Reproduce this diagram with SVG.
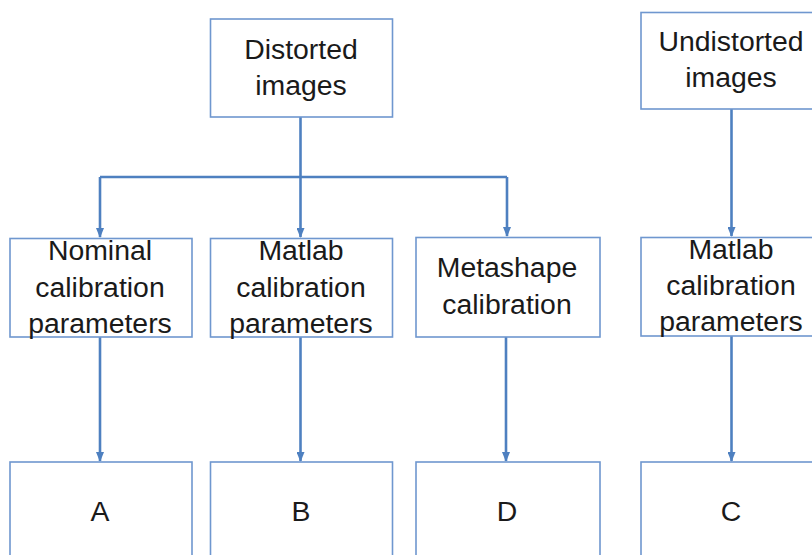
<svg xmlns="http://www.w3.org/2000/svg" width="812" height="555" viewBox="0 0 812 555">
<style>
.box{fill:#fff;stroke:#6f97cf;stroke-width:1.6}
.t{font-family:"Liberation Sans",Arial,sans-serif;font-size:28.4px;fill:#1a1a1a;text-anchor:middle}
.c{fill:none;stroke:#4e80c0;stroke-width:2.6}
</style>
<defs>
<marker id="ah" markerWidth="10" markerHeight="8" refX="9" refY="4" orient="auto" markerUnits="userSpaceOnUse">
<path d="M0,0 L10,4 L0,8 Z" fill="#4e80c0"/>
</marker>
</defs>
<rect width="812" height="555" fill="#fff"/>
<g id="connectors">
<path class="c" d="M300.5,117 V177"/>
<path class="c" d="M100,177 H507" />
<path class="c" d="M100,177 V237" marker-end="url(#ah)"/>
<path class="c" d="M300.5,177 V237" marker-end="url(#ah)"/>
<path class="c" d="M507,177 V236" marker-end="url(#ah)"/>
<path class="c" d="M731.5,109 V236" marker-end="url(#ah)"/>
<path class="c" d="M100,337 V461" marker-end="url(#ah)"/>
<path class="c" d="M300.5,337 V461" marker-end="url(#ah)"/>
<path class="c" d="M506,337 V461" marker-end="url(#ah)"/>
<path class="c" d="M731.5,336 V461" marker-end="url(#ah)"/>
</g>
<g id="distorted">
<rect class="box" x="210.5" y="19" width="182" height="98"/>
<text class="t" x="301" y="59">Distorted</text>
<text class="t" x="301" y="95">images</text>
</g>
<g id="undistorted">
<rect class="box" x="641" y="12.5" width="182" height="96.5"/>
<text class="t" x="731" y="51">Undistorted</text>
<text class="t" x="731" y="87">images</text>
</g>
<g id="nominal">
<rect class="box" x="10" y="238.5" width="182" height="98.5"/>
<text class="t" x="100" y="260">Nominal</text>
<text class="t" x="100" y="297">calibration</text>
<text class="t" x="100" y="333">parameters</text>
</g>
<g id="matlab1">
<rect class="box" x="210.5" y="238.5" width="182" height="98.5"/>
<text class="t" x="301" y="260">Matlab</text>
<text class="t" x="301" y="297">calibration</text>
<text class="t" x="301" y="333">parameters</text>
</g>
<g id="metashape">
<rect class="box" x="416" y="237.5" width="184" height="99.5"/>
<text class="t" x="507" y="277">Metashape</text>
<text class="t" x="507" y="314">calibration</text>
</g>
<g id="matlab2">
<rect class="box" x="641" y="237.5" width="182" height="98.5"/>
<text class="t" x="731" y="259">Matlab</text>
<text class="t" x="731" y="295">calibration</text>
<text class="t" x="731" y="331">parameters</text>
</g>
<g id="A">
<rect class="box" x="10" y="462" width="182" height="110"/>
<text class="t" x="100" y="521">A</text>
</g>
<g id="B">
<rect class="box" x="210.5" y="462" width="182" height="110"/>
<text class="t" x="301" y="521">B</text>
</g>
<g id="D">
<rect class="box" x="416" y="462" width="184" height="110"/>
<text class="t" x="507" y="521">D</text>
</g>
<g id="C">
<rect class="box" x="641" y="462" width="182" height="110"/>
<text class="t" x="731" y="521">C</text>
</g>
</svg>
